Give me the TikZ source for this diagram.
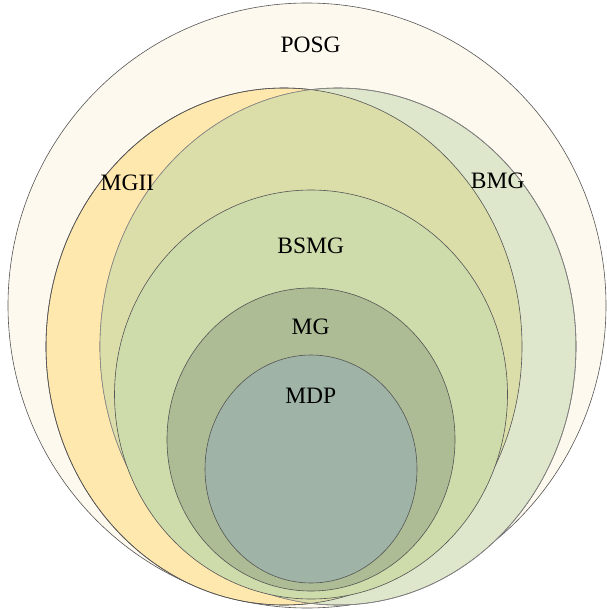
\documentclass[tikz,border=0pt]{standalone}
\usepackage{fontspec}
\setmainfont{Liberation Serif}

\definecolor{posgcol}{HTML}{FEF9EE}
\definecolor{mgiicol}{HTML}{FFE8AE}
\definecolor{bmgcol}{HTML}{DEE6CB}
\definecolor{bothcol}{HTML}{DCDEAA}
\definecolor{bsmgcol}{HTML}{CEDBAA}
\definecolor{mgcol}{HTML}{ADBC94}
\definecolor{mdpcol}{HTML}{9FB4A6}
\definecolor{edgecol}{HTML}{555555}

\begin{document}
\begin{tikzpicture}[x=1pt, y=-1pt,
    set/.style={draw=edgecol, line width=0.6pt},
    setname/.style={font=\fontsize{23.5}{28}\selectfont, inner sep=0pt}]
    \useasboundingbox (0,0) rectangle (606,610);

    % outer sets
    \filldraw[set, fill=posgcol] (307,305.5) ellipse [x radius=299, y radius=302.5];
    \filldraw[set, fill=mgiicol] (284,346.5) ellipse [x radius=238, y radius=258.5];
    \filldraw[set, fill=bmgcol] (338,346.5) ellipse [x radius=238, y radius=258.5];
    \begin{scope}
        \clip (284,346.5) ellipse [x radius=238, y radius=258.5];
        \fill[bothcol] (338,346.5) ellipse [x radius=238, y radius=258.5];
    \end{scope}
    \draw[set] (284,346.5) ellipse [x radius=238, y radius=258.5];
    \draw[set, draw=edgecol!70] (338,346.5) ellipse [x radius=238, y radius=258.5];

    % nested sets
    \filldraw[set, fill=bsmgcol] (311,394.5) ellipse [x radius=196.5, y radius=204.5];
    \filldraw[set, fill=mgcol] (311,439.5) ellipse [x radius=144, y radius=151.5];
    \filldraw[set, fill=mdpcol] (311,469) ellipse [x radius=106, y radius=114];

    % names
    \node[setname] (posg) at (310.6,44.5) {POSG};
    \node[setname] (mgii) at (127.5,183) {MGII};
    \node[setname] (bmg) at (497.7,180.5) {BMG};
    \node[setname] (bsmg) at (310.8,246) {BSMG};
    \node[setname] (mg) at (310.6,326.6) {MG};
    \node[setname] (mdp) at (310.8,396) {MDP};
\end{tikzpicture}
\end{document}
